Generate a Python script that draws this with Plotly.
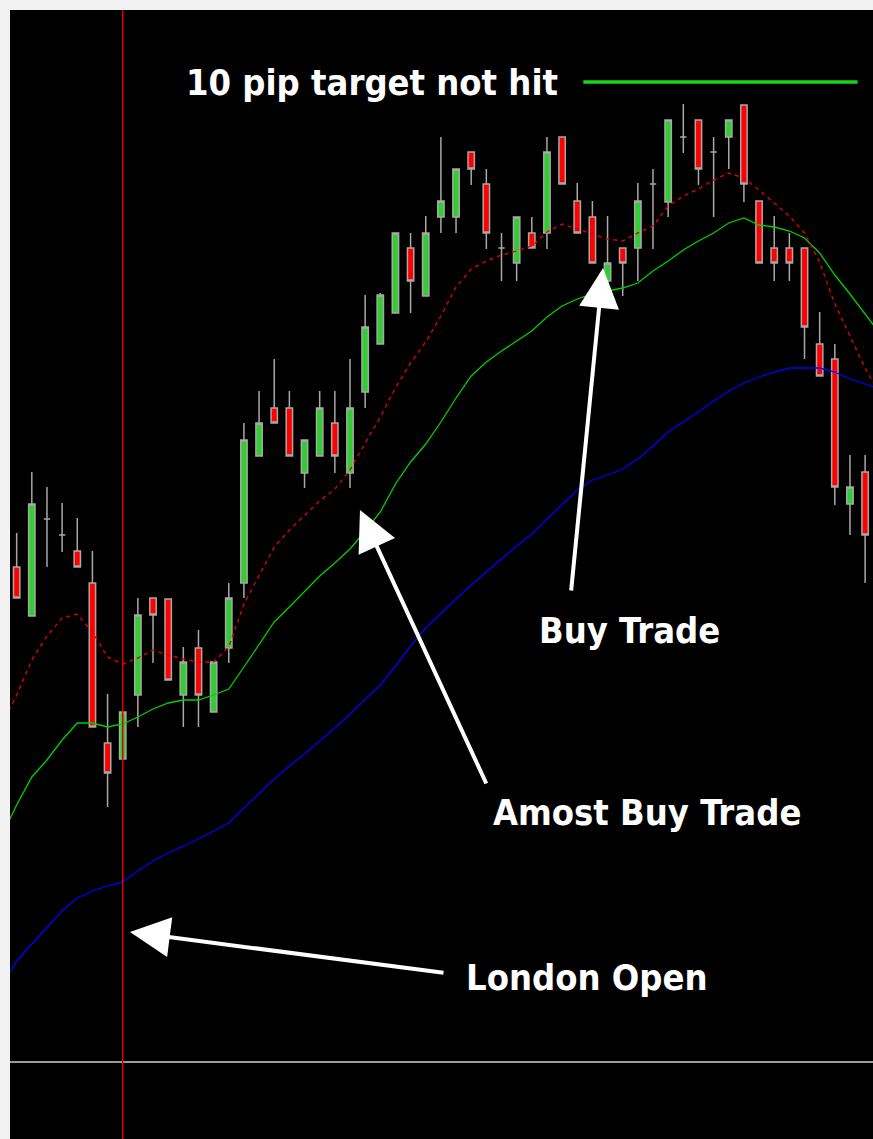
import plotly.graph_objects as go

# ---- candle data (index = bar number) ----
bar_index = list(range(57))
open_ = [1.30533, 1.30484, 1.30581, 1.30565, 1.30549, 1.30517, 1.30357, 1.30341, 1.30405, 1.30502,
         1.30501, 1.30405, 1.30452, 1.30388, 1.30452, 1.30517, 1.30644, 1.30692, 1.30692, 1.30627,
         1.30644, 1.30677, 1.30627, 1.30708, 1.30756, 1.30787, 1.30852, 1.30804, 1.30883, 1.30883,
         1.30948, 1.30916, 1.30852, 1.30837, 1.30867, 1.30867, 1.30963, 1.30899, 1.30883, 1.30819,
         1.30852, 1.30852, 1.30916, 1.30898, 1.30963, 1.30980, 1.30948, 1.30963, 1.30995, 1.30899,
         1.30852, 1.30852, 1.30852, 1.30756, 1.30741, 1.30596, 1.30628]
high = [1.30567, 1.30628, 1.30613, 1.30597, 1.30582, 1.30549, 1.30406, 1.30388, 1.30502, 1.30502,
        1.30501, 1.30453, 1.30470, 1.30438, 1.30517, 1.30677, 1.30709, 1.30741, 1.30709, 1.30660,
        1.30709, 1.30709, 1.30741, 1.30805, 1.30807, 1.30867, 1.30867, 1.30884, 1.30963, 1.30931,
        1.30948, 1.30931, 1.30867, 1.30883, 1.30883, 1.30963, 1.30963, 1.30917, 1.30899, 1.30884,
        1.30852, 1.30917, 1.30931, 1.30980, 1.30996, 1.30980, 1.30963, 1.30980, 1.30995, 1.30899,
        1.30884, 1.30867, 1.30852, 1.30788, 1.30756, 1.30645, 1.30645]
low = [1.30502, 1.30484, 1.30533, 1.30548, 1.30533, 1.30373, 1.30293, 1.30341, 1.30373, 1.30437,
       1.30420, 1.30373, 1.30373, 1.30388, 1.30437, 1.30502, 1.30644, 1.30677, 1.30644, 1.30612,
       1.30644, 1.30627, 1.30612, 1.30692, 1.30756, 1.30787, 1.30787, 1.30804, 1.30867, 1.30867,
       1.30915, 1.30851, 1.30819, 1.30819, 1.30852, 1.30851, 1.30916, 1.30867, 1.30837, 1.30804,
       1.30804, 1.30819, 1.30851, 1.30883, 1.30947, 1.30915, 1.30883, 1.30931, 1.30898, 1.30837,
       1.30819, 1.30819, 1.30741, 1.30724, 1.30595, 1.30565, 1.30517]
close = [1.30502, 1.30596, 1.30581, 1.30565, 1.30533, 1.30373, 1.30327, 1.30388, 1.30485, 1.30485,
         1.30420, 1.30438, 1.30405, 1.30438, 1.30502, 1.30660, 1.30677, 1.30677, 1.30644, 1.30660,
         1.30692, 1.30644, 1.30692, 1.30773, 1.30805, 1.30867, 1.30819, 1.30867, 1.30899, 1.30931,
         1.30931, 1.30867, 1.30852, 1.30883, 1.30852, 1.30948, 1.30916, 1.30867, 1.30837, 1.30837,
         1.30837, 1.30899, 1.30916, 1.30980, 1.30963, 1.30931, 1.30948, 1.30980, 1.30916, 1.30837,
         1.30837, 1.30837, 1.30773, 1.30724, 1.30613, 1.30613, 1.30565]

# ---- moving averages (bar -1 .. 57) ----
ma_index = list(range(-1, 58))
ema_fast = [1.30375, 1.30405, 1.30440, 1.30464, 1.30482, 1.30486, 1.30468, 1.30443, 1.30436, 1.30442,
            1.30450, 1.30445, 1.30441, 1.30438, 1.30438, 1.30453, 1.30496, 1.30525, 1.30553, 1.30570,
            1.30585, 1.30599, 1.30611, 1.30630, 1.30657, 1.30683, 1.30712, 1.30737, 1.30758, 1.30784,
            1.30813, 1.30831, 1.30839, 1.30845, 1.30849, 1.30854, 1.30868, 1.30876, 1.30871, 1.30866,
            1.30861, 1.30859, 1.30867, 1.30874, 1.30894, 1.30904, 1.30911, 1.30920, 1.30927, 1.30922,
            1.30910, 1.30897, 1.30884, 1.30867, 1.30838, 1.30796, 1.30764, 1.30732, 1.30705]
ma_mid = [1.30264, 1.30295, 1.30323, 1.30340, 1.30360, 1.30377, 1.30377, 1.30373, 1.30376, 1.30383,
          1.30391, 1.30397, 1.30400, 1.30400, 1.30405, 1.30411, 1.30433, 1.30456, 1.30478, 1.30493,
          1.30508, 1.30524, 1.30537, 1.30551, 1.30569, 1.30588, 1.30616, 1.30638, 1.30656, 1.30678,
          1.30702, 1.30724, 1.30738, 1.30749, 1.30759, 1.30769, 1.30783, 1.30794, 1.30801, 1.30806,
          1.30809, 1.30812, 1.30817, 1.30829, 1.30839, 1.30850, 1.30859, 1.30867, 1.30877, 1.30882,
          1.30875, 1.30873, 1.30869, 1.30862, 1.30847, 1.30825, 1.30806, 1.30786, 1.30766]
ma_slow = [1.30115, 1.30139, 1.30156, 1.30173, 1.30189, 1.30202, 1.30209, 1.30214, 1.30218, 1.30229,
           1.30239, 1.30247, 1.30254, 1.30261, 1.30269, 1.30277, 1.30292, 1.30307, 1.30321, 1.30334,
           1.30346, 1.30359, 1.30372, 1.30386, 1.30401, 1.30415, 1.30434, 1.30454, 1.30472, 1.30487,
           1.30501, 1.30515, 1.30528, 1.30541, 1.30554, 1.30566, 1.30581, 1.30596, 1.30610, 1.30620,
           1.30625, 1.30631, 1.30641, 1.30654, 1.30668, 1.30678, 1.30688, 1.30699, 1.30709, 1.30717,
           1.30723, 1.30728, 1.30732, 1.30732, 1.30732, 1.30728, 1.30721, 1.30716, 1.30711]

# ---- annotation data ----
london_open_bar = 7
target_level = 1.31018
target_bars = [37.4, 55.5]
separator_level = 1.30038

fig = go.Figure()

fig.add_trace(go.Candlestick(
    x=bar_index, open=open_, high=high, low=low, close=close,
    increasing=dict(fillcolor="#32CD32", line=dict(color="#A8A8A8", width=1.5)),
    decreasing=dict(fillcolor="#FF0000", line=dict(color="#A8A8A8", width=1.5)),
    whiskerwidth=0, showlegend=False, hoverinfo="skip"))

fig.add_trace(go.Scatter(x=ma_index, y=ma_slow, mode="lines",
                         line=dict(color="#0000FF", width=1.3), showlegend=False, hoverinfo="skip"))
fig.add_trace(go.Scatter(x=ma_index, y=ma_mid, mode="lines",
                         line=dict(color="#00D000", width=1.3), showlegend=False, hoverinfo="skip"))
fig.add_trace(go.Scatter(x=ma_index, y=ema_fast, mode="lines",
                         line=dict(color="#E00000", width=1.4, dash="4px,4px"),
                         showlegend=False, hoverinfo="skip"))

# target line
fig.add_trace(go.Scatter(x=target_bars, y=[target_level, target_level], mode="lines",
                         line=dict(color="#19D419", width=3.5), showlegend=False, hoverinfo="skip"))

shapes = [
    dict(type="line", xref="x", yref="paper", x0=london_open_bar, x1=london_open_bar, y0=0, y1=1,
         line=dict(color="#E00000", width=1.5), layer="above"),
    dict(type="line", xref="paper", yref="y", x0=0, x1=1, y0=separator_level, y1=separator_level,
         line=dict(color="#9A9A9A", width=2), layer="below"),
]

font_fam = "DejaVu Sans Condensed, Liberation Sans Narrow, sans-serif"
txt = dict(family=font_fam, size=36, color="white", weight="bold")

annotations = [
    dict(x=23.45, y=1.31018, text="10 pip target not hit", showarrow=False, font=txt,
         xanchor="center", yanchor="middle"),
    dict(x=40.46, y=1.30470, text="Buy Trade", showarrow=False, font=txt,
         xanchor="center", yanchor="middle"),
    dict(x=41.6, y=1.30288, text="Amost Buy Trade", showarrow=False, font=txt,
         xanchor="center", yanchor="middle"),
    dict(x=37.6, y=1.30123, text="London Open", showarrow=False, font=txt,
         xanchor="center", yanchor="middle"),
    # arrows
    dict(x=38.7, y=1.30832, ax=-32, ay=324, text="", showarrow=True, arrowhead=2,
         arrowsize=2, arrowwidth=4, arrowcolor="white", standoff=0),
    dict(x=22.66, y=1.30590, ax=127, ay=275, text="", showarrow=True, arrowhead=2,
         arrowsize=2, arrowwidth=4, arrowcolor="white", standoff=0),
    dict(x=7.48, y=1.30168, ax=315, ay=41, text="", showarrow=True, arrowhead=2,
         arrowsize=2, arrowwidth=4, arrowcolor="white", standoff=0),
]

fig.update_layout(
    width=873, height=1139,
    margin=dict(l=10, r=0, t=10, b=0),
    paper_bgcolor="#F2F2F2", plot_bgcolor="#000000",
    boxgap=0.4,
    shapes=shapes, annotations=annotations,
    xaxis=dict(range=[-0.44, 56.52], showgrid=False, zeroline=False, showticklabels=False,
               ticks="", rangeslider=dict(visible=False), fixedrange=True),
    yaxis=dict(range=[1.29961, 1.31090], showgrid=False, zeroline=False, showticklabels=False,
               ticks="", fixedrange=True),
)

fig.write_html("out.html", config={"displayModeBar": False},
               post_script="document.body.style.margin='0';document.body.style.overflow='hidden';")
